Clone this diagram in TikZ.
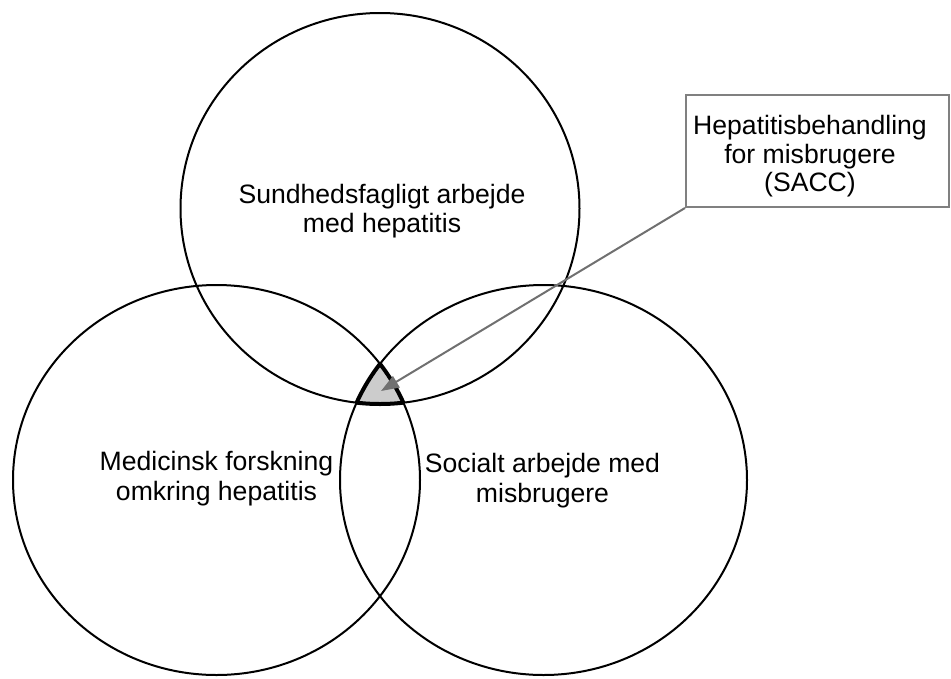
\documentclass[tikz,border=0pt]{standalone}
\usepackage{fontspec}
\setmainfont{Liberation Sans}
\usetikzlibrary{shapes.geometric,arrows.meta}
\definecolor{arrowgray}{RGB}{112,112,112}
\definecolor{boxgray}{RGB}{128,128,128}
\definecolor{shadegray}{RGB}{204,204,204}
\begin{document}
\begin{tikzpicture}[x=1pt,y=-1pt,
  venn/.style={draw=black,line width=2pt,ellipse,inner sep=0pt,outer sep=0pt},
  vlabel/.style={font=\fontsize{26.6}{29.5}\selectfont,align=center,inner sep=0pt,text=black},
  callout/.style={draw=boxgray,line width=2pt,rectangle,inner sep=0pt,minimum width=263pt,minimum height=112pt},
  pointer/.style={draw=arrowgray,line width=2pt,-{Triangle[length=18pt,width=13pt,fill=arrowgray]}},
  rim/.style={line width=4pt,draw=black}]
\useasboundingbox (0,0) rectangle (951,678);
% shaded triple intersection
\begin{scope}
  \clip (380,208.5) ellipse [x radius=199.5pt,y radius=195.5pt];
  \clip (216.5,480) ellipse [x radius=203.5pt,y radius=195pt];
  \fill[shadegray] (543.5,480) ellipse [x radius=203.5pt,y radius=195pt];
  \draw[rim] (543.5,480) ellipse [x radius=203.5pt,y radius=195pt];
\end{scope}
\begin{scope}
  \clip (380,208.5) ellipse [x radius=199.5pt,y radius=195.5pt];
  \clip (543.5,480) ellipse [x radius=203.5pt,y radius=195pt];
  \draw[rim] (216.5,480) ellipse [x radius=203.5pt,y radius=195pt];
\end{scope}
\begin{scope}
  \clip (216.5,480) ellipse [x radius=203.5pt,y radius=195pt];
  \clip (543.5,480) ellipse [x radius=203.5pt,y radius=195pt];
  \draw[rim] (380,208.5) ellipse [x radius=199.5pt,y radius=195.5pt];
\end{scope}
% circles
\node[venn,minimum width=399pt,minimum height=391pt] (hepwork) at (380,208.5) {};
\node[venn,minimum width=407pt,minimum height=390pt] (research) at (216.5,480) {};
\node[venn,minimum width=407pt,minimum height=390pt] (social) at (543.5,480) {};
% labels
\node[vlabel] (hepworktext) at (382,211) {Sundhedsfagligt arbejde\\med hepatitis};
\node[vlabel] (researchtext) at (216.5,478.6) {Medicinsk forskning\\omkring hepatitis};
\node[vlabel] (socialtext) at (542.5,480.5) {Socialt arbejde med\\misbrugere};
% callout
\node[callout] (sacc) at (817.5,151) {};
\node[vlabel,font=\fontsize{26.6}{28.5}\selectfont] (sacctext) at (810,156.6) {Hepatitisbehandling\\for misbrugere\\(SACC)};
\coordinate (target) at (381,391);
\draw[pointer] (sacc.south west) -- (target);
\end{tikzpicture}
\end{document}
